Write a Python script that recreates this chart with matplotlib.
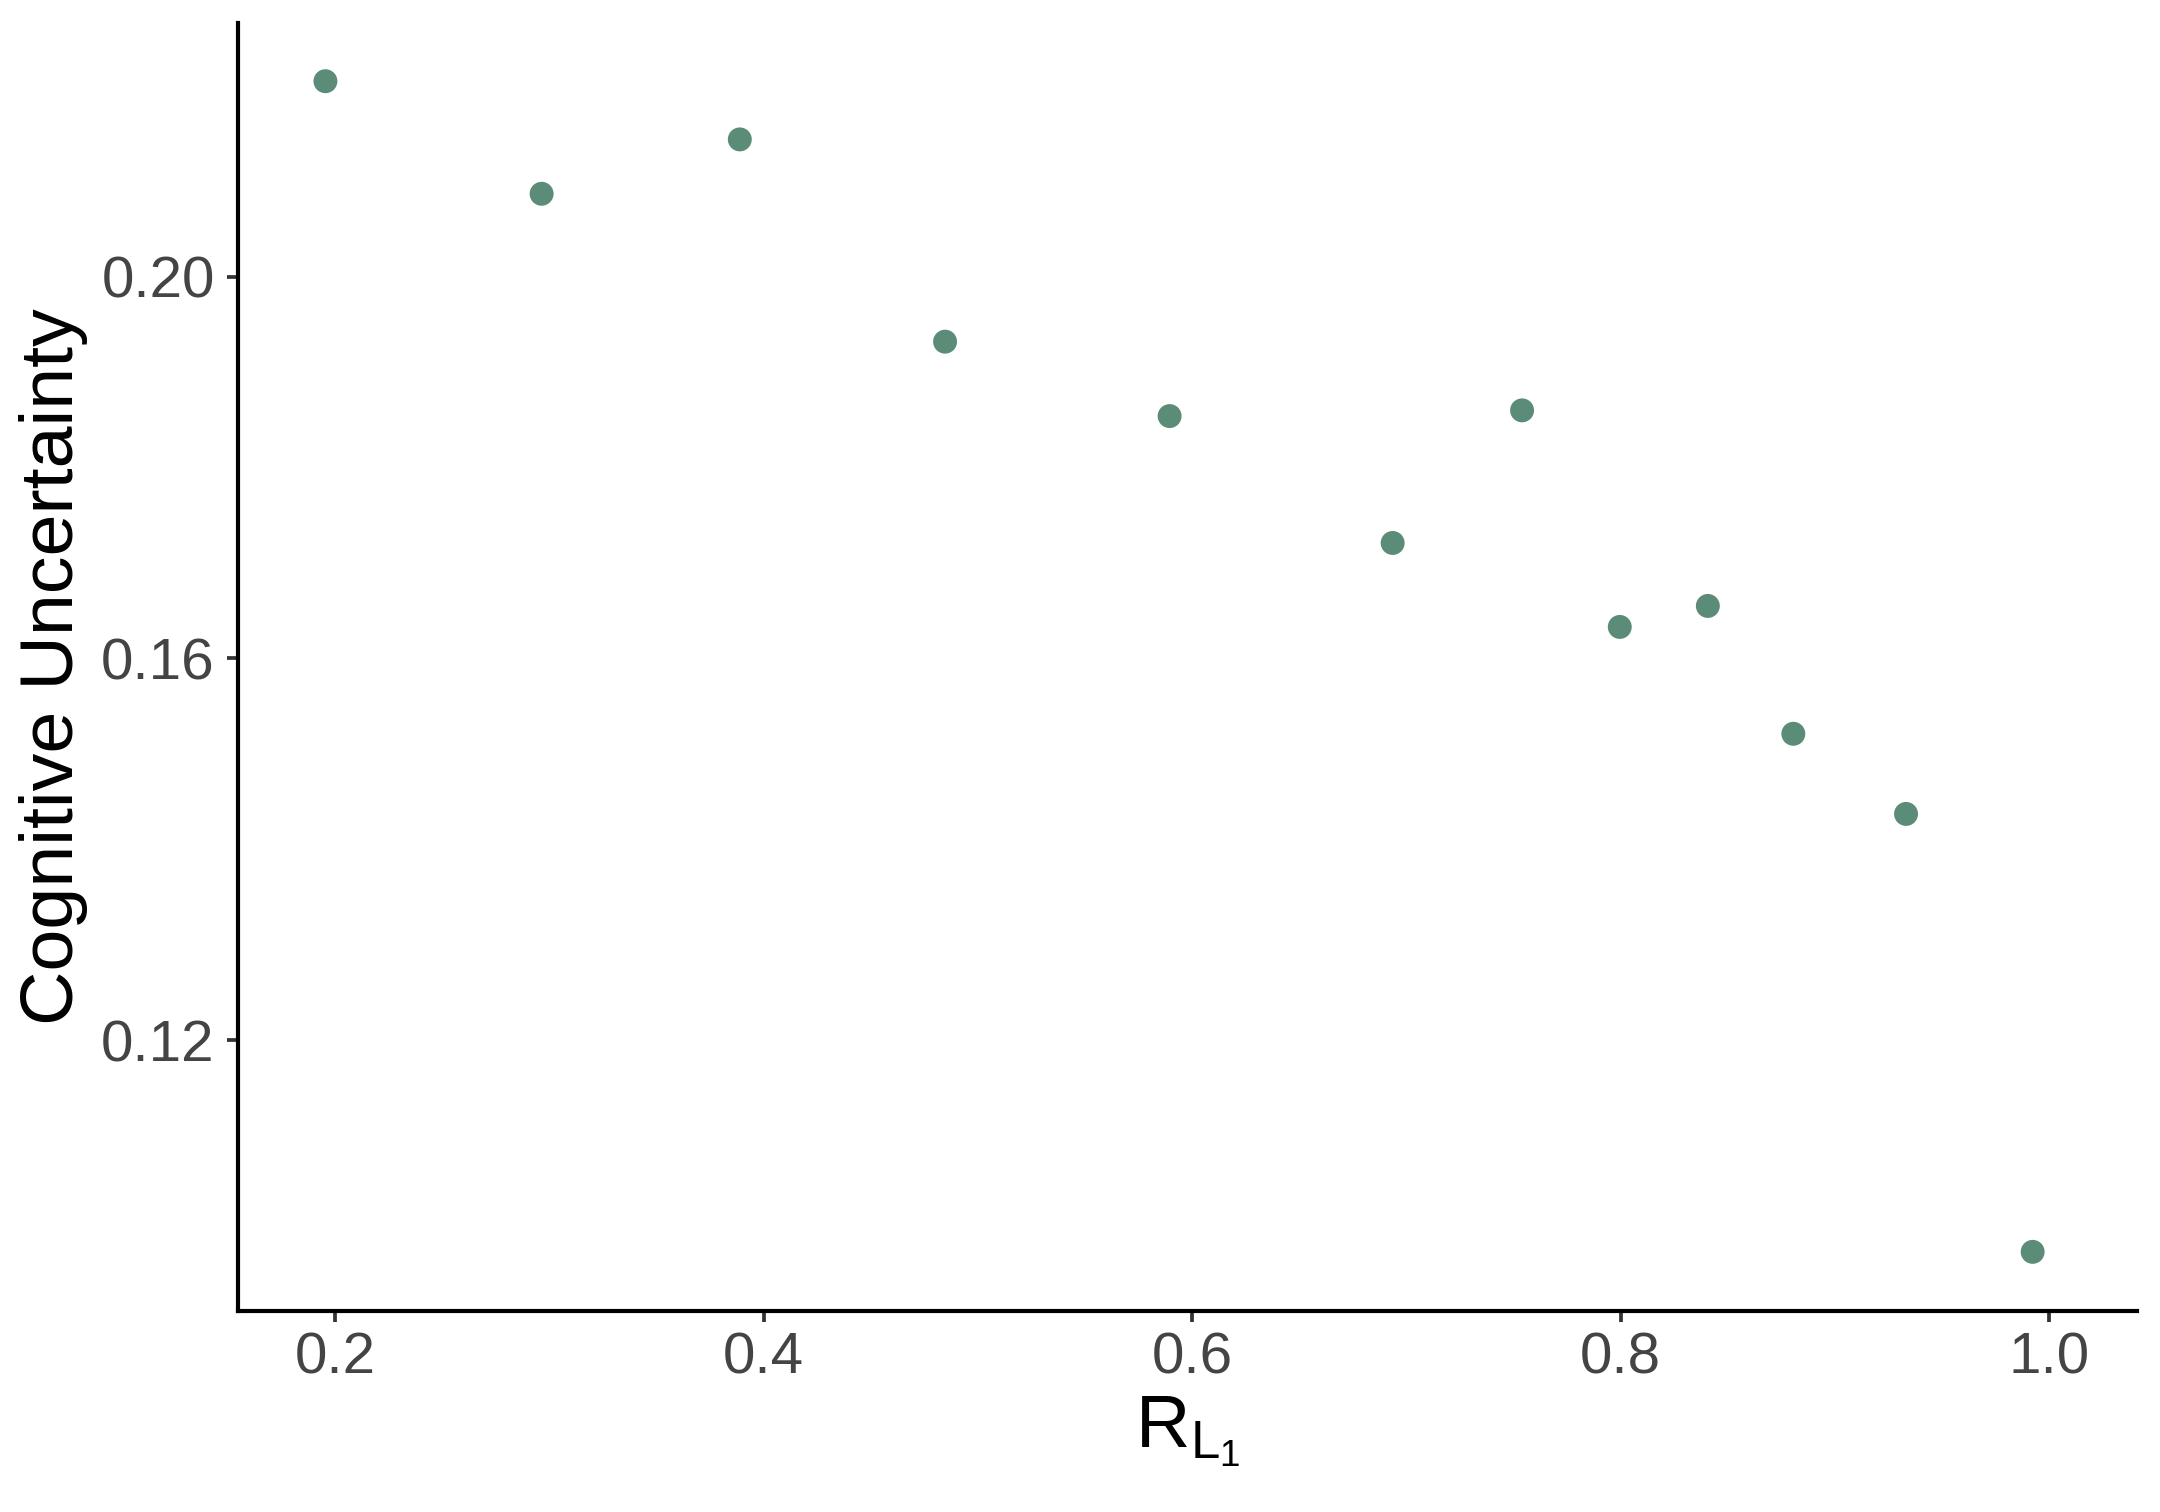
import matplotlib
matplotlib.use("Agg")
import matplotlib.pyplot as plt

plt.rcParams['font.family'] = ['Liberation Sans', 'DejaVu Sans']
plt.rcParams['mathtext.fontset'] = 'custom'
plt.rcParams['mathtext.rm'] = 'Liberation Sans'
plt.rcParams['mathtext.it'] = 'Liberation Sans:italic'
plt.rcParams['mathtext.bf'] = 'Liberation Sans:bold'

# Data
r_l1 = [0.1955, 0.2964, 0.3889, 0.4847, 0.5895, 0.6936, 0.7540, 0.7996, 0.8407, 0.8806, 0.9332, 0.9923]
cog_unc = [0.2205, 0.2087, 0.2144, 0.1932, 0.1854, 0.1721, 0.1860, 0.1633, 0.1655, 0.1521, 0.1437, 0.0978]
x_ticks = [0.2, 0.4, 0.6, 0.8, 1.0]
x_ticklabels = ["0.2", "0.4", "0.6", "0.8", "1.0"]
y_ticks = [0.12, 0.16, 0.20]
y_ticklabels = ["0.12", "0.16", "0.20"]

fig = plt.figure(figsize=(7.2, 5.04), dpi=300)
ax = fig.add_axes([238/2160, 1 - 1311/1512, (2137-238)/2160, (1311-23)/1512])

ax.scatter(r_l1, cog_unc, s=33, color='#5B8C77', edgecolors='none', zorder=3)

ax.set_xlim(0.1547, 1.041)
ax.set_ylim(0.0916, 0.2266)
ax.set_xticks(x_ticks)
ax.set_xticklabels(x_ticklabels)
ax.set_yticks(y_ticks)
ax.set_yticklabels(y_ticklabels)

for side in ['top', 'right']:
    ax.spines[side].set_visible(False)
for side in ['left', 'bottom']:
    ax.spines[side].set_linewidth(1.0)
    ax.spines[side].set_color('black')

ax.tick_params(axis='both', length=2.6, width=0.9, color='#333333',
               labelsize=14, labelcolor='#444444')
ax.tick_params(axis='x', pad=2.4)
ax.tick_params(axis='y', pad=3.0)

ax.set_xlabel(r'$\mathrm{R}_{\mathrm{L}_{1}}$', fontsize=18.1, color='black', labelpad=2)
ax.set_ylabel('Cognitive Uncertainty', fontsize=18.1, color='black', labelpad=3)

fig.savefig('out.png', dpi=300, facecolor='white')
